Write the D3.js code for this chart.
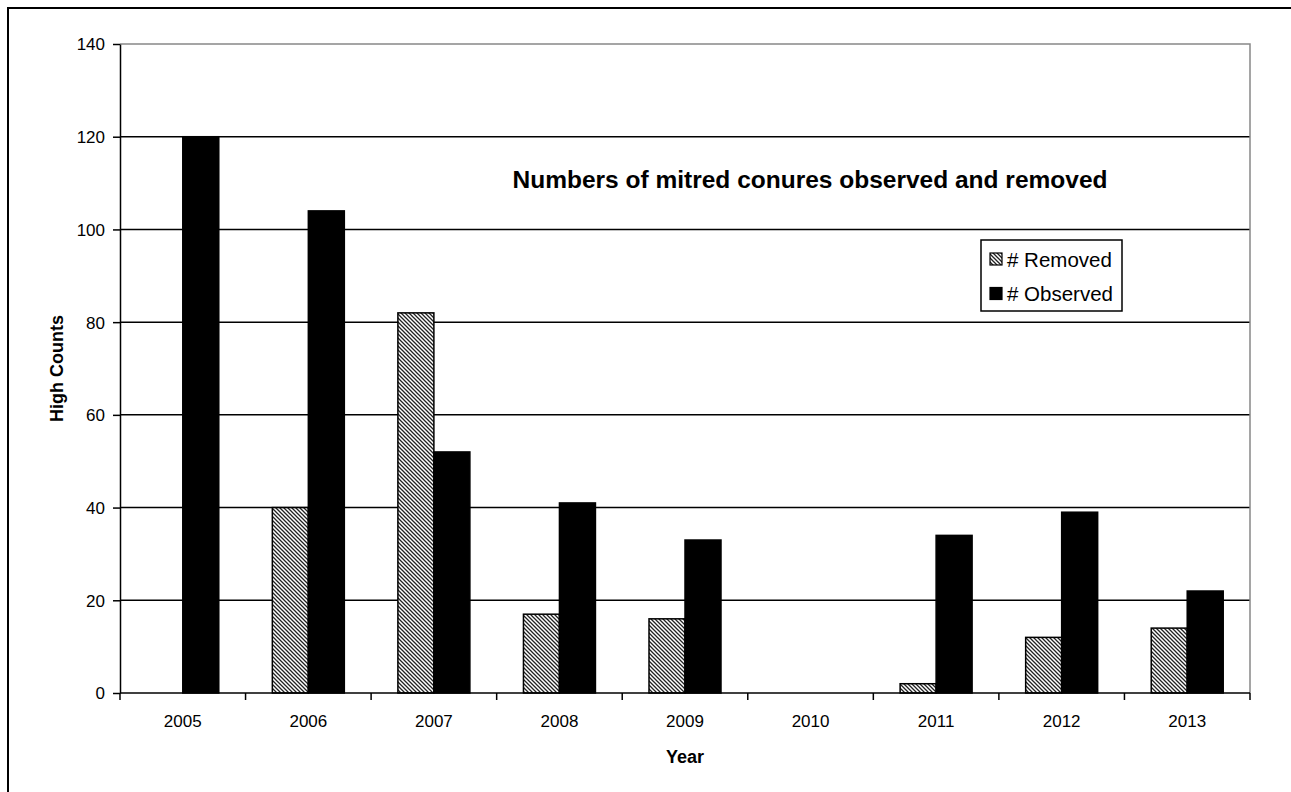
<!DOCTYPE html>
<html><head><meta charset="utf-8">
<script src="https://cdn.jsdelivr.net/npm/d3@7"></script>
<style>body{margin:0;background:#fff;overflow:hidden}svg{display:block}text{font-family:"Liberation Sans",Arial,sans-serif;fill:#000}</style>
</head><body><svg id="c" width="1291" height="792"></svg>
<script>
const years = ["2005","2006","2007","2008","2009","2010","2011","2012","2013"];
const removed = [0,40,82,17,16,0,2,12,14];
const observed = [120,104,52,41,33,0,34,39,22];
const yTicks = [0,20,40,60,80,100,120,140];
const seriesNames = ["# Removed","# Observed"];
const titleText = "Numbers of mitred conures observed and removed";

const svg = d3.select("#c");
const L=120,R=1250,T=44,B=693;
const x = d3.scaleBand().domain(years).range([L,R]).padding(0);
const sub = d3.scaleBand().domain(["r","o"]).range([0,x.bandwidth()]).paddingInner(0).paddingOuter(0.744);
const y = d3.scaleLinear().domain([0,140]).range([B,T]);

const defs = svg.append("defs");
const pat = defs.append("pattern").attr("id","hatch").attr("patternUnits","userSpaceOnUse").attr("width",4).attr("height",4);
pat.append("rect").attr("width",4).attr("height",4).attr("fill","#fff");
pat.append("path").attr("d","M-1,-1L5,5M-1,3L1,5M3,-1L5,1").attr("stroke","#222").attr("stroke-width",1.3);

// outer frame
svg.append("rect").attr("x",8).attr("y",8).attr("width",1300).attr("height",800).attr("fill","none").attr("stroke","#000").attr("stroke-width",2);

// gridlines
svg.append("g").selectAll("line").data(yTicks.filter(d=>d>0&&d<140)).join("line")
  .attr("x1",L).attr("x2",R).attr("y1",d=>y(d)).attr("y2",d=>y(d)).attr("stroke","#000").attr("stroke-width",1.5);
// plot area border top/right
svg.append("path").attr("d",`M${L},${y(140)}H${R}V${B}`).attr("fill","none").attr("stroke","#888").attr("stroke-width",1.5);

// bars
const g = svg.append("g");
g.selectAll("rect.r").data(years.map((d,i)=>({k:d,v:removed[i]})).filter(d=>d.v>0)).join("rect").attr("class","r")
  .attr("x",d=>x(d.k)+sub("r")).attr("width",sub.bandwidth()).attr("y",d=>y(d.v)).attr("height",d=>y(0)-y(d.v))
  .attr("fill","url(#hatch)").attr("stroke","#000").attr("stroke-width",1.5);
g.selectAll("rect.o").data(years.map((d,i)=>({k:d,v:observed[i]})).filter(d=>d.v>0)).join("rect").attr("class","o")
  .attr("x",d=>x(d.k)+sub("o")).attr("width",sub.bandwidth()).attr("y",d=>y(d.v)).attr("height",d=>y(0)-y(d.v))
  .attr("fill","#000").attr("stroke","#000").attr("stroke-width",1.5);

// y axis
const ya = svg.append("g").attr("transform",`translate(${L},0)`).call(d3.axisLeft(y).tickValues(yTicks).tickSize(7).tickPadding(8).tickSizeOuter(0));
ya.select(".domain").attr("stroke","#000").attr("stroke-width",1.5);
ya.selectAll(".tick line").attr("stroke","#000").attr("stroke-width",1.5);
ya.selectAll(".tick text").attr("font-size",17).attr("font-family","Liberation Sans, Arial, sans-serif").attr("fill","#000").attr("dy","0.35em");

// x axis
const xa = svg.append("g").attr("transform",`translate(0,${B})`).call(d3.axisBottom(x).tickSize(0).tickPadding(0));
xa.select(".domain").remove();
xa.selectAll(".tick text").attr("font-size",17).attr("font-family","Liberation Sans, Arial, sans-serif").attr("fill","#000").attr("y",34).attr("dy",0);
svg.append("line").attr("x1",L).attr("x2",R).attr("y1",B).attr("y2",B).attr("stroke","#000").attr("stroke-width",1.5);
svg.append("g").selectAll("line").data(years.map(d=>x(d)).concat([R])).join("line")
  .attr("x1",d=>d).attr("x2",d=>d).attr("y1",B).attr("y2",B+7).attr("stroke","#000").attr("stroke-width",1.5);

// axis titles
svg.append("text").attr("x",(L+R)/2).attr("y",763).attr("text-anchor","middle").attr("font-weight","bold").attr("font-size",18).text("Year");
svg.append("text").attr("transform",`translate(63,${(T+B)/2}) rotate(-90)`).attr("text-anchor","middle").attr("font-weight","bold").attr("font-size",18).text("High Counts");

// title
svg.append("text").attr("x",810).attr("y",188).attr("text-anchor","middle").attr("font-weight","bold").attr("font-size",24.5).text(titleText);

// legend
const lg = svg.append("g");
lg.append("rect").attr("x",981).attr("y",240).attr("width",141).attr("height",71).attr("fill","#fff").attr("stroke","#000").attr("stroke-width",1.5);
const fills = ["url(#hatch)","#000"];
seriesNames.forEach((n,i)=>{
  const cy = 259 + i*34.5;
  lg.append("rect").attr("x",990).attr("y",cy-6).attr("width",12).attr("height",12).attr("fill",fills[i]).attr("stroke","#000").attr("stroke-width",1.2);
  lg.append("text").attr("x",1007).attr("y",cy+7.5).attr("font-size",20.5).text(n);
});
</script></body></html>
